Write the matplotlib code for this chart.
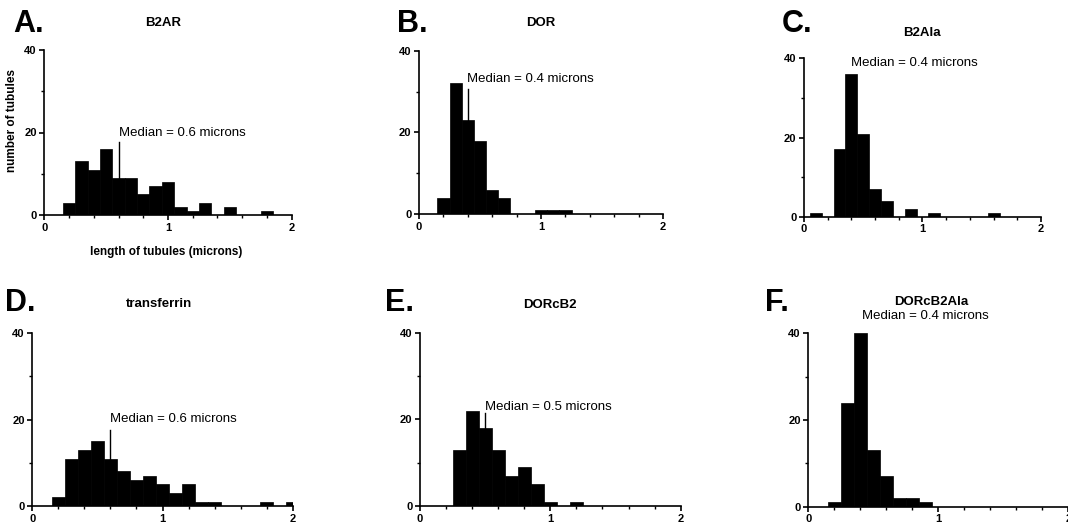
import matplotlib
matplotlib.use("Agg")
import matplotlib.pyplot as plt
from matplotlib.ticker import MultipleLocator

plt.rcParams['font.family'] = ['Liberation Sans', 'DejaVu Sans']

W, H = 1068, 526

# bin centres (microns), bin width 0.1
bins = [0.1, 0.2, 0.3, 0.4, 0.5, 0.6, 0.7, 0.8, 0.9, 1.0,
        1.1, 1.2, 1.3, 1.4, 1.5, 1.6, 1.7, 1.8, 1.9, 2.0]

counts_b2ar = [0, 3, 13, 11, 16, 9, 9, 5, 7, 8, 2, 1, 3, 0, 2, 0, 0, 1, 0, 0]
counts_dor = [0, 4, 32, 23, 18, 6, 4, 0, 0, 1, 1, 1, 0, 0, 0, 0, 0, 0, 0, 0]
counts_b2ala = [1, 0, 17, 36, 21, 7, 4, 0, 2, 0, 1, 0, 0, 0, 0, 1, 0, 0, 0, 0]
counts_tf = [0, 2, 11, 13, 15, 11, 8, 6, 7, 5, 3, 5, 1, 1, 0, 0, 0, 1, 0, 1]
counts_dorcb2 = [0, 0, 13, 22, 18, 13, 7, 9, 5, 1, 0, 1, 0, 0, 0, 0, 0, 0, 0, 0]
counts_dorcb2ala = [0, 1, 24, 40, 13, 7, 2, 2, 1, 0, 0, 0, 0, 0, 0, 0, 0, 0, 0, 0]

letters = ['A.', 'B.', 'C.', 'D.', 'E.', 'F.']
titles = ['B2AR', 'DOR', 'B2Ala', 'transferrin', 'DORcB2', 'DORcB2Ala']
medians = [0.6, 0.4, 0.4, 0.6, 0.5, 0.4]
# median marker line: (x, y bottom, y top) or None
median_lines = [(0.6, 9, 17.6), (0.4, 23, 30.5), None,
                (0.6, 11, 17.5), (0.5, 18, 21.5), None]
median_text_pos = [(0.6, 20), (0.39, 33), (0.40, 38.7),
                   (0.60, 20.1), (0.50, 22.9), (0.41, 44)]

# axes boxes in pixels: x0, x2 (value 2), y0 (value 0), y40 (value 40)
boxes = [(44.3, 291.7, 215, 50), (419, 663, 214, 50.7), (804, 1041, 216.7, 58.3),
         (32.3, 292.7, 506, 333.3), (420, 680.7, 506, 332.7), (808.3, 1068.3, 506.7, 333.3)]
letter_pos = [(13, 24), (397, 24), (782, 24), (5, 303), (385, 303), (765, 303)]
title_pos = [(163, 23), (541, 23), (922, 33), (159, 304), (550, 305), (931, 302)]

all_counts = [counts_b2ar, counts_dor, counts_b2ala, counts_tf, counts_dorcb2, counts_dorcb2ala]

fig = plt.figure(figsize=(W / 100, H / 100), dpi=100)

for i in range(6):
    x0, x2, y0, y40 = boxes[i]
    ax = fig.add_axes([x0 / W, 1 - y0 / H, (x2 - x0) / W, (y0 - y40) / H])
    ax.bar(bins, all_counts[i], width=0.1, color='black', edgecolor='black', linewidth=0.5)
    ax.set_xlim(0, 2)
    ax.set_ylim(0, 40)
    for s in ['top', 'right']:
        ax.spines[s].set_visible(False)
    for s in ['left', 'bottom']:
        ax.spines[s].set_linewidth(1.2)
    ax.set_xticks([0, 1, 2])
    ax.set_yticks([0, 20, 40])
    ax.xaxis.set_minor_locator(MultipleLocator(0.2))
    ax.yaxis.set_minor_locator(MultipleLocator(10))
    ax.tick_params(which='major', length=3.5, width=1.2, labelsize=8, pad=2)
    ax.tick_params(which='minor', length=2.5, width=1.0)
    for lab in ax.get_xticklabels() + ax.get_yticklabels():
        lab.set_fontweight('bold')

    if median_lines[i] is not None:
        mx, ylo, yhi = median_lines[i]
        ax.plot([mx, mx], [ylo, yhi], color='black', lw=1.0)
    tx, ty = median_text_pos[i]
    ax.text(tx, ty, 'Median = %.1f microns' % medians[i], fontsize=9.5,
            ha='left', va='center', clip_on=False)

    lx, ly = letter_pos[i]
    fig.text(lx / W, 1 - ly / H, letters[i], fontsize=22, fontweight='bold',
             ha='left', va='center')
    tx, ty = title_pos[i]
    fig.text(tx / W, 1 - ty / H, titles[i], fontsize=9.5, fontweight='bold',
             ha='center', va='center')

    if i == 0:
        fig.text(12.5 / W, 1 - 121 / H, 'number of tubules', fontsize=8.5,
                 fontweight='bold', rotation=90, ha='center', va='center')
        fig.text(166 / W, 1 - 252 / H, 'length of tubules (microns)', fontsize=8.5,
                 fontweight='bold', ha='center', va='center')

fig.savefig('out.png', dpi=100)
